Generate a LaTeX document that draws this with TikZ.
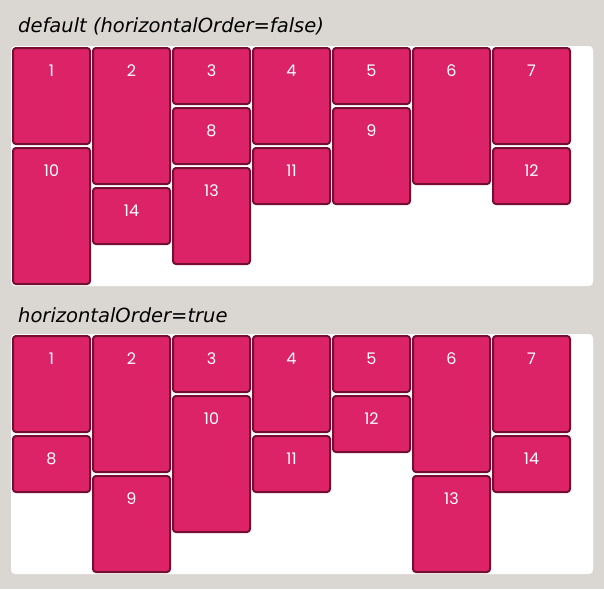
\documentclass[tikz,border=0pt]{standalone}
\usepackage{fontspec}
\newfontfamily\numfont{Poppins}
\newfontfamily\titlefont{DejaVu Sans}
\definecolor{cardfill}{HTML}{DD2367}
\definecolor{cardborder}{HTML}{740F32}
\definecolor{bggrey}{HTML}{DAD7D3}
\begin{document}
\begin{tikzpicture}[x=1pt,y=-1pt,
 card/.style={draw=cardborder, fill=cardfill, line width=2pt, rounded corners=3pt, minimum width=77pt, inner sep=0pt, outer sep=0pt, anchor=north west},
 num/.style={text=white, inner sep=0pt, font=\numfont\fontsize{16}{16}\selectfont},
 panel/.style={fill=white, rounded corners=4pt},
 ttl/.style={font=\titlefont\itshape\fontsize{19.5}{19.5}\selectfont, anchor=base west, inner sep=0pt}]
\fill[bggrey] (0,0) rectangle (604,589);
\useasboundingbox (0,0) rectangle (604,589);
\fill[panel] (11,46) rectangle (593,286);
\fill[panel] (11,334) rectangle (593,574);
\node[ttl] (t1) at (18,32) {default (horizontalOrder=false)};
\node[ttl] (t2) at (18,322) {horizontalOrder=true};
\foreach \n/\c/\t/\h in {1/1/47/98,10/1/147/138,2/2/47/138,14/2/187/58,3/3/47/58,8/3/107/58,13/3/167/98,4/4/47/98,11/4/147/58,5/5/47/58,9/5/107/98,6/6/47/138,7/7/47/98,12/7/147/58}{
  \node[card, minimum height={(\h-2)*1pt}] (a\n) at ({12+80*(\c-1)+1},{\t+1}) {};
  \node[num] (na\n) at ([yshift=-23pt]a\n.north) {\n};
}
\foreach \n/\c/\t/\h in {1/1/335/98,8/1/435/58,2/2/335/138,9/2/475/98,3/3/335/58,10/3/395/138,4/4/335/98,11/4/435/58,5/5/335/58,12/5/395/58,6/6/335/138,13/6/475/98,7/7/335/98,14/7/435/58}{
  \node[card, minimum height={(\h-2)*1pt}] (b\n) at ({12+80*(\c-1)+1},{\t+1}) {};
  \node[num] (nb\n) at ([yshift=-23pt]b\n.north) {\n};
}
\end{tikzpicture}
\end{document}
